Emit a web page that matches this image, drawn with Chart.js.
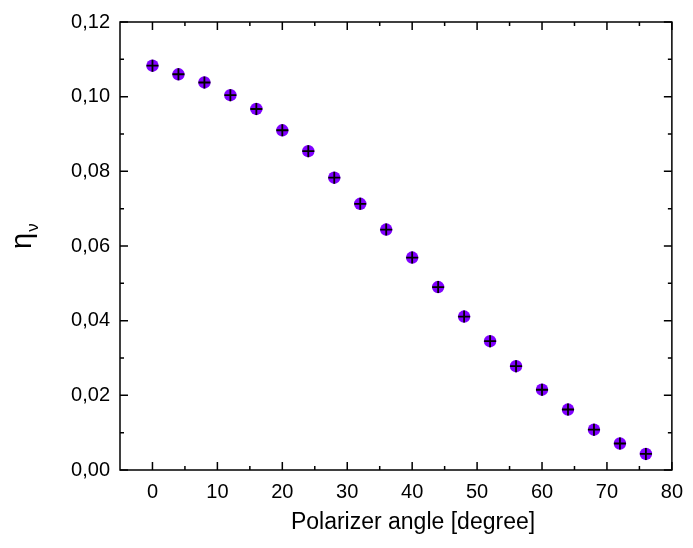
<!DOCTYPE html>
<html>
<head>
<meta charset="utf-8">
<script src="https://cdn.jsdelivr.net/npm/chart.js@4.4.1/dist/chart.umd.min.js"></script>
<style>
  html, body { margin: 0; padding: 0; background: #fff; }
  #wrap { width: 693px; height: 548px; }
</style>
</head>
<body>
<div id="wrap"><canvas id="chart" width="693" height="548"></canvas></div>
<script>
// data
const angles = [0, 4, 8, 12, 16, 20, 24, 28, 32, 36, 40, 44, 48, 52, 56, 60, 64, 68, 72, 76];
const eta = [0.1083, 0.1060, 0.1038, 0.1004, 0.0967, 0.0910, 0.0854, 0.0783, 0.0713, 0.0644,
             0.0569, 0.0490, 0.0411, 0.0345, 0.0278, 0.0215, 0.0162, 0.0108, 0.0071, 0.0043];

const xTicks = [0, 10, 20, 30, 40, 50, 60, 70, 80];
const xMinorTicks = [5, 15, 25, 35, 45, 55, 65, 75];
const yTicks = [0, 0.02, 0.04, 0.06, 0.08, 0.10, 0.12];
const yTickLabels = ['0,00', '0,02', '0,04', '0,06', '0,08', '0,10', '0,12'];
const yMinorTicks = [0.01, 0.03, 0.05, 0.07, 0.09, 0.11];

const xTitle = 'Polarizer angle [degree]';
const yTitle = 'η';
const yTitleSub = 'ν';

const FONT = '"Liberation Sans", Arial, sans-serif';

const points = angles.map((a, i) => ({ x: a, y: eta[i] }));

// frame, inward ticks and axis titles
const framePlugin = {
  id: 'frame',
  afterDraw(chart) {
    const { ctx, chartArea: a, scales } = chart;
    const x = scales.x, y = scales.y;
    ctx.save();
    ctx.strokeStyle = '#000';
    ctx.lineWidth = 1.5;
    ctx.strokeRect(a.left, a.top, a.right - a.left, a.bottom - a.top);

    ctx.beginPath();
    const xTick = (v, len) => {
      const px = x.getPixelForValue(v);
      ctx.moveTo(px, a.bottom); ctx.lineTo(px, a.bottom - len);
      ctx.moveTo(px, a.top); ctx.lineTo(px, a.top + len);
    };
    const yTick = (v, len) => {
      const py = y.getPixelForValue(v);
      ctx.moveTo(a.left, py); ctx.lineTo(a.left + len, py);
      ctx.moveTo(a.right, py); ctx.lineTo(a.right - len, py);
    };
    xTicks.forEach(v => xTick(v, 8));
    xMinorTicks.forEach(v => xTick(v, 4));
    yTicks.forEach(v => yTick(v, 8));
    yMinorTicks.forEach(v => yTick(v, 4));
    ctx.stroke();

    // x title
    ctx.fillStyle = '#000';
    ctx.font = '23px ' + FONT;
    ctx.textAlign = 'center';
    ctx.textBaseline = 'middle';
    ctx.fillText(xTitle, 413, 523);

    // y title, rotated, with subscript
    ctx.translate(31, 249);
    ctx.rotate(-Math.PI / 2);
    ctx.textAlign = 'left';
    ctx.textBaseline = 'alphabetic';
    ctx.font = '29px ' + FONT;
    ctx.fillText(yTitle, 0, 0);
    const w = ctx.measureText(yTitle).width;
    ctx.font = '17px ' + FONT;
    ctx.fillText(yTitleSub, w + 1, 7);
    ctx.restore();
  }
};

new Chart(document.getElementById('chart'), {
  type: 'scatter',
  data: {
    datasets: [
      {
        // black cross on top
        data: points,
        order: 0,
        pointStyle: 'cross',
        pointRadius: 6,
        pointHoverRadius: 6,
        pointBorderColor: '#000',
        pointBorderWidth: 1.8
      },
      {
        data: points,
        order: 1,
        pointStyle: 'circle',
        pointRadius: 6.2,
        pointHoverRadius: 6.2,
        pointBackgroundColor: '#8000ff',
        pointBorderWidth: 0
      }
    ]
  },
  options: {
    responsive: false,
    animation: false,
    layout: { padding: { left: 0, right: 15, top: 20, bottom: 0 } },
    plugins: {
      legend: { display: false },
      tooltip: { enabled: false }
    },
    scales: {
      x: {
        type: 'linear',
        min: -5,
        max: 80,
        afterBuildTicks: s => { s.ticks = xTicks.map(v => ({ value: v })); },
        afterFit: s => { s.height = 78; },
        grid: { display: false, drawTicks: false },
        border: { display: false },
        ticks: {
          color: '#000',
          padding: 10,
          font: { family: FONT, size: 20 },
          maxRotation: 0
        }
      },
      y: {
        type: 'linear',
        min: 0,
        max: 0.12,
        afterBuildTicks: s => { s.ticks = yTicks.map(v => ({ value: v })); },
        afterFit: s => { s.width = 120; },
        grid: { display: false, drawTicks: false },
        border: { display: false },
        ticks: {
          color: '#000',
          padding: 10,
          font: { family: FONT, size: 20 },
          callback: (v, i) => yTickLabels[i]
        }
      }
    }
  },
  plugins: [framePlugin]
});
</script>
</body>
</html>
